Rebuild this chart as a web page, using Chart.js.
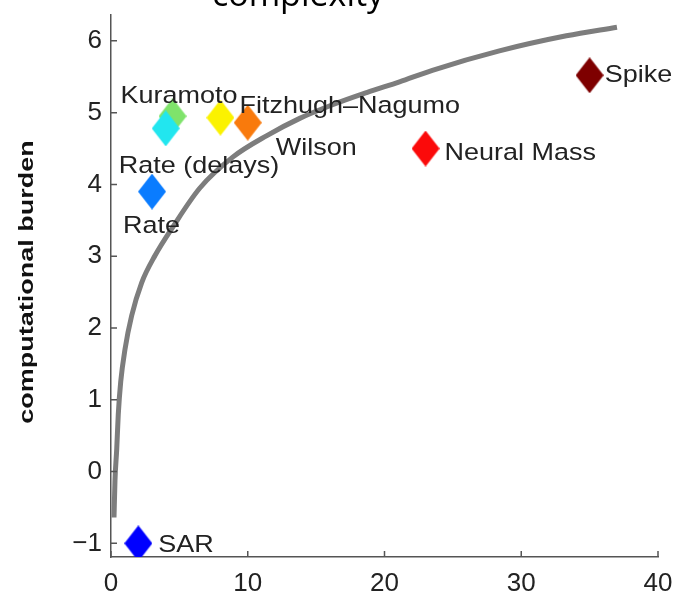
<!DOCTYPE html>
<html>
<head>
<meta charset="utf-8">
<script src="https://cdn.jsdelivr.net/npm/chart.js@4.4.1/dist/chart.umd.min.js"></script>
<style>
  html, body { margin: 0; padding: 0; background: #fff; }
  canvas { display: block; }
</style>
</head>
<body>
<canvas id="burdenChart" width="680" height="602"></canvas>
<script>
// models: complexity (x) vs computational burden (y)
const modelNames = ['SAR', 'Rate', 'Kuramoto', 'Rate (delays)', 'Fitzhugh\u2013Nagumo', 'Wilson', 'Neural Mass', 'Spike'];
const modelX = [2, 3, 4.5, 4, 8, 10, 23, 35];
const modelY = [-1, 3.9, 4.95, 4.78, 4.93, 4.86, 4.5, 5.52];
const modelColors = ['#0000ff', '#0a7cff', '#7fe36b', '#22e6ef', '#fbf200', '#f97a0c', '#fb0a0a', '#7e0000'];

// grey trend curve
const curveX = [0.22, 0.29, 0.42, 0.53, 0.71, 1.02, 1.51, 2.24, 3.22, 4.53, 6.5, 8.9, 11.4, 13.8, 16.2, 18.7, 21.1, 23.5, 28.4, 33.3, 37.0];
const curveY = [-0.64, -0.13, 0.32, 0.79, 1.25, 1.70, 2.17, 2.63, 3.01, 3.41, 3.95, 4.38, 4.68, 4.92, 5.11, 5.28, 5.43, 5.59, 5.86, 6.07, 6.19];

const xTicks = [0, 10, 20, 30, 40];
const yTicks = [-1, 0, 1, 2, 3, 4, 5, 6];

// label placement relative to each diamond (pixels)
const labelOffsets = [[20, 2], [-29, 35], [-52, -20], [-47, 38], [19, -11], [28, 26], [19, 5], [15, 0]];

const FONT = 'Liberation Sans, Arial, Helvetica, sans-serif';
const AXIS_COLOR = '#555';

function makeDiamond(color) {
    const c = document.createElement('canvas');
    c.width = 28;
    c.height = 36;
    const g = c.getContext('2d');
    g.fillStyle = color;
    g.beginPath();
    g.moveTo(14, 0);
    g.lineTo(28, 18);
    g.lineTo(14, 36);
    g.lineTo(0, 18);
    g.closePath();
    g.fill();
    return c;
}

const inwardTicks = {
    id: 'inwardTicks',
    afterDraw(chart) {
        const ctx = chart.ctx;
        const xs = chart.scales.x, ys = chart.scales.y;
        const area = chart.chartArea;
        ctx.save();
        ctx.strokeStyle = AXIS_COLOR;
        ctx.lineWidth = 1.5;
        ctx.beginPath();
        xTicks.forEach(v => {
            const px = xs.getPixelForValue(v);
            ctx.moveTo(px, area.bottom);
            ctx.lineTo(px, area.bottom - 6);
        });
        yTicks.forEach(v => {
            const py = ys.getPixelForValue(v);
            ctx.moveTo(area.left, py);
            ctx.lineTo(area.left + 6, py);
        });
        ctx.stroke();
        ctx.restore();
    }
};

const pointLabels = {
    id: 'pointLabels',
    afterDatasetsDraw(chart) {
        const ctx = chart.ctx;
        const meta = chart.getDatasetMeta(1);
        meta.data.forEach((pt, i) => {
            const off = labelOffsets[i];
            ctx.save();
            ctx.translate(pt.x + off[0], pt.y + off[1]);
            ctx.scale(1, 0.86);
            ctx.font = '27px ' + FONT;
            ctx.fillStyle = '#222';
            ctx.textAlign = 'left';
            ctx.textBaseline = 'middle';
            ctx.fillText(modelNames[i], 0, 0);
            ctx.restore();
        });
    }
};

const extraText = {
    id: 'extraText',
    afterDraw(chart) {
        const ctx = chart.ctx;
        ctx.save();
        // title, mostly cut off at the top edge
        ctx.font = '34px "Open Sans", sans-serif';
        ctx.fillStyle = '#000';
        ctx.textAlign = 'center';
        ctx.textBaseline = 'alphabetic';
        ctx.fillText('complexity', 298, 6);
        // y axis title
        ctx.translate(28, 282);
        ctx.rotate(-Math.PI / 2);
        ctx.scale(1, 0.72);
        ctx.font = 'bold 27px ' + FONT;
        ctx.fillStyle = '#111';
        ctx.textBaseline = 'middle';
        ctx.fillText('computational burden', 0, 0);
        ctx.restore();
    }
};

const ctx = document.getElementById('burdenChart').getContext('2d');

new Chart(ctx, {
    type: 'scatter',
    data: {
        datasets: [
            {
                type: 'line',
                data: curveX.map((x, i) => ({ x: x, y: curveY[i] })),
                borderColor: '#7d7d7d',
                borderWidth: 5,
                pointRadius: 0,
                fill: false,
                cubicInterpolationMode: 'monotone',
                order: 2
            },
            {
                data: modelX.map((x, i) => ({ x: x, y: modelY[i] })),
                pointStyle: modelColors.map(makeDiamond),
                backgroundColor: modelColors,
                pointRadius: 14,
                order: 1
            }
        ]
    },
    options: {
        responsive: false,
        animation: false,
        layout: { padding: { top: 9, right: 22, left: 0, bottom: 0 } },
        plugins: {
            legend: { display: false },
            tooltip: { enabled: false }
        },
        scales: {
            x: {
                type: 'linear',
                min: 0,
                max: 40,
                afterBuildTicks: s => { s.ticks = xTicks.map(v => ({ value: v })); },
                afterFit: s => { s.height = 45; s.paddingLeft = 0; s.paddingRight = 0; },
                grid: { display: false, drawTicks: false },
                border: { display: true, color: AXIS_COLOR, width: 1.5 },
                ticks: { font: { family: FONT, size: 26 }, color: '#222', padding: 11, maxRotation: 0 }
            },
            y: {
                type: 'linear',
                min: -1.19,
                max: 6.36,
                afterBuildTicks: s => { s.ticks = yTicks.map(v => ({ value: v })); },
                afterFit: s => { s.width = 111; s.paddingTop = 0; s.paddingBottom = 0; },
                grid: { display: false, drawTicks: false },
                border: { display: true, color: AXIS_COLOR, width: 1.5 },
                ticks: {
                    font: { family: FONT, size: 26 },
                    color: '#222',
                    padding: 9,
                    callback: v => String(v).replace('-', '\u2212')
                }
            }
        }
    },
    plugins: [inwardTicks, pointLabels, extraText]
});
</script>
</body>
</html>
